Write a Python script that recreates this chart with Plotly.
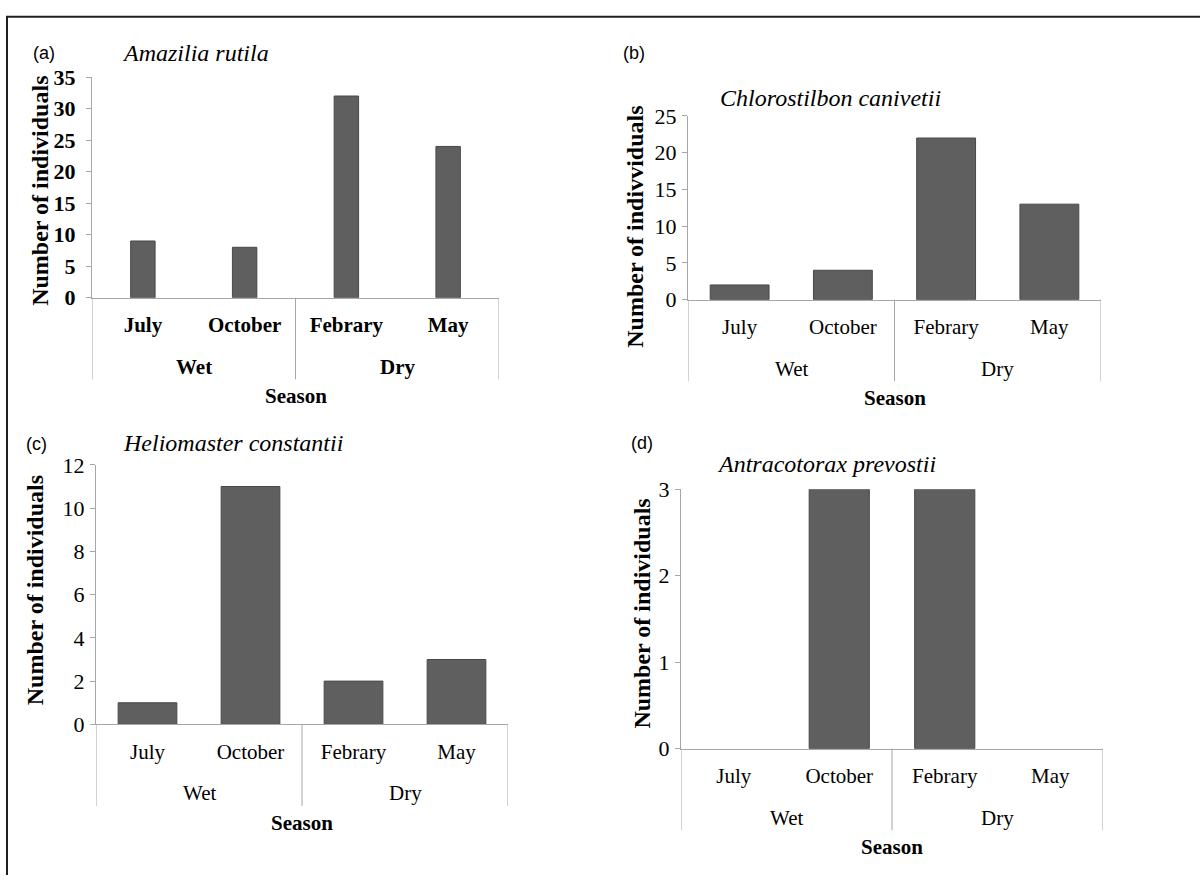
import plotly.graph_objects as go

# Categories
months = ["July", "October", "Febrary", "May"]
seasons = ["Wet", "Dry"]

# Number of individuals recorded per month
amazilia_rutila = [9, 8, 32, 24]
chlorostilbon_canivetii = [2, 4, 22, 13]
heliomaster_constantii = [1, 11, 2, 3]
antracotorax_prevostii = [0, 3, 3, 0]

W, H = 1200, 888
SERIF = "Liberation Serif, Times New Roman, serif"
SANS = "Liberation Sans, Arial, sans-serif"
AXIS_GREY = "#a6a6a6"
BAR_FILL = "#5f5f5f"
BAR_EDGE = "#484848"

# Layout of each panel, in pixels of the page
panels = [
    dict(tag="(a)", species="Amazilia rutila", values=amazilia_rutila,
         ymax=35, dtick=5, ytitle="Number of individuals", bold=True,
         bar_width=0.24, x0=92, x1=499, ytop=67, ybot=294,
         tag_xy=(44, 42), species_xy=(120, 42), ytitle_xy=(40, 184),
         ystandoff=6),
    dict(tag="(b)", species="Chlorostilbon canivetii", values=chlorostilbon_canivetii,
         ymax=25, dtick=5, ytitle="Number of indivviduals", bold=False,
         bar_width=0.57, x0=688, x1=1101, ytop=107, ybot=296,
         tag_xy=(634, 42), species_xy=(718, 88), ytitle_xy=(635, 221),
         ystandoff=1),
    dict(tag="(c)", species="Heliomaster constantii", values=heliomaster_constantii,
         ymax=12, dtick=2, ytitle="Number of individuals", bold=False,
         bar_width=0.57, x0=96, x1=508, ytop=466, ybot=733,
         tag_xy=(36, 445), species_xy=(121, 443), ytitle_xy=(35, 595),
         ystandoff=1),
    dict(tag="(d)", species="Antracotorax prevostii", values=antracotorax_prevostii,
         ymax=3, dtick=1, ytitle="Number of individuals", bold=False,
         bar_width=0.57, x0=681, x1=1103, ytop=491, ybot=758,
         tag_xy=(642, 443), species_xy=(715, 465), ytitle_xy=(642, 619),
         ystandoff=1),
]


def px_x(x):
    return x / W


def px_y(y):
    return 1 - y / H


fig = go.Figure()
annotations = []
shapes = []

for i, p in enumerate(panels, start=1):
    suffix = "" if i == 1 else str(i)
    xa, ya = "x" + suffix, "y" + suffix
    weight = "bold" if p["bold"] else "normal"
    label_font = dict(family=SERIF, size=21, color="black", weight=weight)
    tick_font = dict(family=SERIF, size=22, color="black", weight=weight)

    # no outline on empty months, so nothing is drawn over the axis line
    edge_widths = [1 if v > 0 else 0 for v in p["values"]]
    fig.add_trace(go.Bar(
        x=months, y=p["values"], width=p["bar_width"],
        marker=dict(color=BAR_FILL, line=dict(color=BAR_EDGE, width=edge_widths)),
        xaxis=xa, yaxis=ya, showlegend=False, hoverinfo="x+y",
    ))

    fig.layout["xaxis" + suffix] = dict(
        domain=[px_x(p["x0"]), px_x(p["x1"])], anchor=ya,
        type="category", categoryorder="array", categoryarray=months,
        range=[-0.5, len(months) - 0.5],
        showline=True, linecolor=AXIS_GREY, linewidth=1,
        ticks="", showgrid=False, zeroline=False,
        tickfont=label_font, ticklabelstandoff=8, fixedrange=True,
    )
    fig.layout["yaxis" + suffix] = dict(
        domain=[px_y(p["ybot"]), px_y(p["ytop"])], anchor=xa,
        range=[0, p["ymax"]], dtick=p["dtick"], tick0=0,
        showline=True, linecolor=AXIS_GREY, linewidth=1,
        ticks="outside", ticklen=5, tickcolor=AXIS_GREY,
        showgrid=False, zeroline=False,
        tickfont=tick_font, ticklabelstandoff=p["ystandoff"], fixedrange=True,
    )

    ybot_paper = px_y(p["ybot"])
    # Season dividers below the month labels
    for xb in (-0.5, 1.5, 3.5):
        shapes.append(dict(
            type="line", xref=xa, yref="paper",
            x0=xb, x1=xb, y0=ybot_paper, y1=px_y(p["ybot"] + 84),
            line=dict(color=AXIS_GREY, width=1),
        ))
    # Season group labels
    for j, s in enumerate(seasons):
        annotations.append(dict(
            text=s, xref=xa, yref="paper", x=2 * j + 0.5, y=px_y(p["ybot"] + 71),
            xanchor="center", yanchor="middle", showarrow=False,
            font=label_font,
        ))
    # x axis title
    annotations.append(dict(
        text="<b>Season</b>", xref=xa, yref="paper", x=1.5, y=px_y(p["ybot"] + 101),
        xanchor="center", yanchor="middle", showarrow=False,
        font=dict(family=SERIF, size=21, color="black"),
    ))
    # y axis title
    annotations.append(dict(
        text="<b>%s</b>" % p["ytitle"], xref="paper", yref="paper",
        x=px_x(p["ytitle_xy"][0]), y=px_y(p["ytitle_xy"][1]),
        xanchor="center", yanchor="middle", textangle=-90, showarrow=False,
        font=dict(family=SERIF, size=24, color="black"),
    ))
    # panel tag
    annotations.append(dict(
        text=p["tag"], xref="paper", yref="paper",
        x=px_x(p["tag_xy"][0]), y=px_y(p["tag_xy"][1]),
        xanchor="center", yanchor="middle", showarrow=False,
        font=dict(family=SANS, size=18, color="black"),
    ))
    # species name
    annotations.append(dict(
        text="<i>%s</i>" % p["species"], xref="paper", yref="paper",
        x=px_x(p["species_xy"][0]), y=px_y(p["species_xy"][1]),
        xanchor="left", yanchor="middle", showarrow=False,
        font=dict(family=SERIF, size=24, color="black"),
    ))

# Frame along the top and left edges
shapes.append(dict(type="line", xref="paper", yref="paper",
                   x0=px_x(6), x1=1, y0=px_y(5), y1=px_y(5),
                   line=dict(color="#1e1e1e", width=2)))
shapes.append(dict(type="line", xref="paper", yref="paper",
                   x0=px_x(7), x1=px_x(7), y0=px_y(4), y1=0,
                   line=dict(color="#1e1e1e", width=2)))

fig.update_layout(
    width=W, height=H,
    margin=dict(l=0, r=0, t=0, b=0),
    paper_bgcolor="white", plot_bgcolor="white",
    annotations=annotations, shapes=shapes,
    showlegend=False,
)

fig.write_html("out.html")
